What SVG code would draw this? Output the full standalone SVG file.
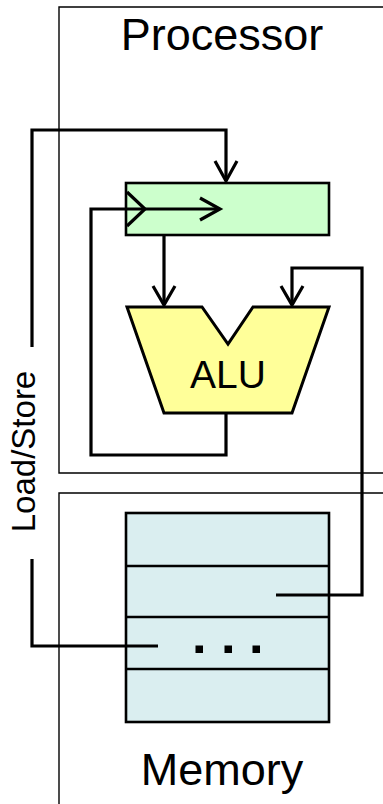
<svg xmlns="http://www.w3.org/2000/svg" width="383" height="804" viewBox="0 0 383 804">
<style>
.frame{fill:none;stroke:#000;stroke-width:1.4}
.conn{fill:none;stroke:#000;stroke-width:3.2;stroke-linejoin:miter}
.head{fill:none;stroke:#000;stroke-width:3.2;stroke-linecap:butt;stroke-linejoin:miter}
.lbl{font-family:"Liberation Sans",Arial,sans-serif;fill:#000}
</style>
<rect width="383" height="804" fill="#fff"/>
<g id="processor">
<polyline class="frame" points="390,7 59,7 59,473 390,473"/>
<text class="lbl" x="222" y="50" font-size="45" text-anchor="middle">Processor</text>
</g>
<g id="memory">
<polyline class="frame" points="390,493 59,493 59,810"/>
<text class="lbl" x="222" y="785" font-size="45" text-anchor="middle">Memory</text>
</g>
<g id="register">
<rect x="126" y="183" width="203" height="52" fill="#ccffcc" stroke="#000" stroke-width="2.6"/>
</g>
<g id="alu">
<polygon points="127,307 202,307 228,344 253,307 329,307 292,413 164,413" fill="#ffff99" stroke="#000" stroke-width="3"/>
<text class="lbl" x="228" y="388" font-size="39" text-anchor="middle">ALU</text>
</g>
<g id="memory-array">
<rect x="126" y="513" width="203" height="209" fill="#daeef0" stroke="#000" stroke-width="2.6"/>
<line x1="126" y1="566" x2="329" y2="566" stroke="#000" stroke-width="2.6"/>
<line x1="126" y1="617" x2="329" y2="617" stroke="#000" stroke-width="2.6"/>
<line x1="126" y1="669" x2="329" y2="669" stroke="#000" stroke-width="2.6"/>
<rect x="195.5" y="645.5" width="7.5" height="7.5" fill="#000"/>
<rect x="224.5" y="645.5" width="7.5" height="7.5" fill="#000"/>
<rect x="252.5" y="645.5" width="7.5" height="7.5" fill="#000"/>
</g>
<g id="load-store-label">
<text class="lbl" transform="translate(35,451.5) rotate(-90)" font-size="33" text-anchor="middle">Load/Store</text>
</g>
<g id="connectors">
<polyline class="conn" points="32,347 32,130 226,130 226,181"/>
<polyline class="head" points="215,161 226,181 237,161"/>
<polyline class="conn" points="158,646 32,646 32,559"/>
<polyline class="conn" points="226,413 226,455 91,455 91,209 218,209"/>
<polyline class="head" points="127,192 145,209 127,226"/>
<polyline class="head" points="200,198 220,209 200,220"/>
<polyline class="conn" points="164,235 164,304"/>
<polyline class="head" points="153,286 164,305 175,286"/>
<polyline class="conn" points="276,595 362,595 362,268 292,268 292,304"/>
<polyline class="head" points="281,286 292,305 303,286"/>
</g>
</svg>
